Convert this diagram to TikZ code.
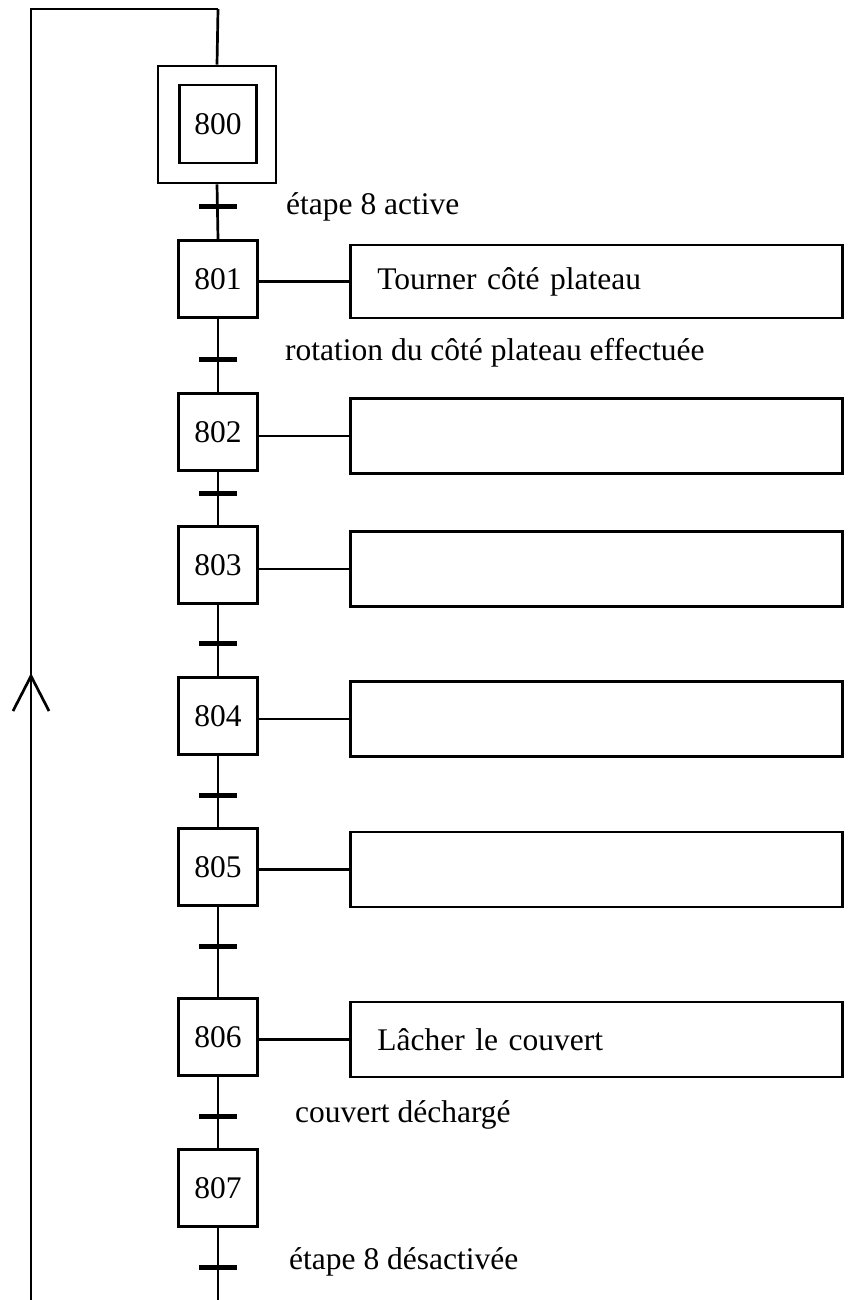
\documentclass[tikz,border=0pt]{standalone}
\usepackage{fontspec}
\setmainfont{Liberation Serif}
\begin{document}
\begin{tikzpicture}[x=1pt,y=-1pt,
  every node/.style={font=\fontsize{31.5}{37}\selectfont},
  stepbox/.style={draw, line width=2.8pt, minimum width=79pt, minimum height=77pt, inner sep=0pt},
  initbox/.style={draw, line width=2.8pt, minimum width=118pt, minimum height=117pt, inner sep=0pt},
  actbox/.style={draw, line width=2.8pt, anchor=west, minimum height=75pt, text width=438pt, inner xsep=27pt, inner ysep=0pt, align=left},
  transbar/.style={fill=black, minimum width=38pt, minimum height=5pt, inner sep=0pt},
  link/.style={line width=2.7pt},
  actlink/.style={line width=2.2pt},
  lbl/.style={anchor=west, inner sep=0pt}
]
\useasboundingbox (0,0) rectangle (849,1300);

% steps
\node[initbox] (s800) at (217,124.5) {};
\node[stepbox, minimum width=77pt, minimum height=78pt] (s800i) at (218,124) {800};
\node[stepbox] (s801) at (218,279) {801};
\node[stepbox] (s802) at (218,432) {802};
\node[stepbox] (s803) at (218,565) {803};
\node[stepbox] (s804) at (218,716) {804};
\node[stepbox] (s805) at (218,867) {805};
\node[stepbox] (s806) at (218,1037) {806};
\node[stepbox] (s807) at (218,1188) {807};

% actions
\node[actbox, minimum height=73pt] (a801) at (349,281.5) {Tourner côté plateau};
\node[actbox] (a802) at (349,436) {};
\node[actbox] (a803) at (349,569) {};
\node[actbox] (a804) at (349,719) {};
\node[actbox] (a805) at (349,869.5) {};
\node[actbox] (a806) at (349,1039.5) {Lâcher le couvert};

% coordinates
\coordinate (top) at (218,9);
\coordinate (bot) at (218,1300);
\coordinate (lt) at (31,9);
\coordinate (lb) at (31,1300);
\coordinate (ah) at (31,676);
\coordinate (al) at (13,711);
\coordinate (ar) at (49,711);

% main line
\draw[link] (top) -- (s800.north);
\draw[link] (s800.south) -- (s801.north);
\draw[link] (s801.south) -- (s802.north);
\draw[link] (s802.south) -- (s803.north);
\draw[link] (s803.south) -- (s804.north);
\draw[link] (s804.south) -- (s805.north);
\draw[link] (s805.south) -- (s806.north);
\draw[link] (s806.south) -- (s807.north);
\draw[link] (s807.south) -- (bot);

% return loop
\draw[link] (lb) -- (lt) -- (top);
\draw[link] (al) -- (ah) -- (ar);

% action links
\draw[actlink] (s801.east |- a801.west) -- (a801.west);
\draw[actlink] (s802.east |- a802.west) -- (a802.west);
\draw[actlink] (s803.east |- a803.west) -- (a803.west);
\draw[actlink] (s804.east |- a804.west) -- (a804.west);
\draw[actlink] (s805.east |- a805.west) -- (a805.west);
\draw[actlink] (s806.east |- a806.west) -- (a806.west);

% transitions
\node[transbar] (t1) at (218,206) {};
\node[transbar] (t2) at (218,359) {};
\node[transbar] (t3) at (218,493) {};
\node[transbar] (t4) at (218,643) {};
\node[transbar] (t5) at (218,795) {};
\node[transbar] (t6) at (218,946) {};
\node[transbar] (t7) at (218,1116) {};
\node[transbar] (t8) at (218,1267) {};

% receptivities
\node[lbl] (l1) at (286,207) {étape 8 active};
\node[lbl] (l2) at (285,353) {rotation du côté plateau effectuée};
\node[lbl] (l3) at (295,1115) {couvert déchargé};
\node[lbl] (l4) at (289,1262) {étape 8 désactivée};
\end{tikzpicture}
\end{document}
